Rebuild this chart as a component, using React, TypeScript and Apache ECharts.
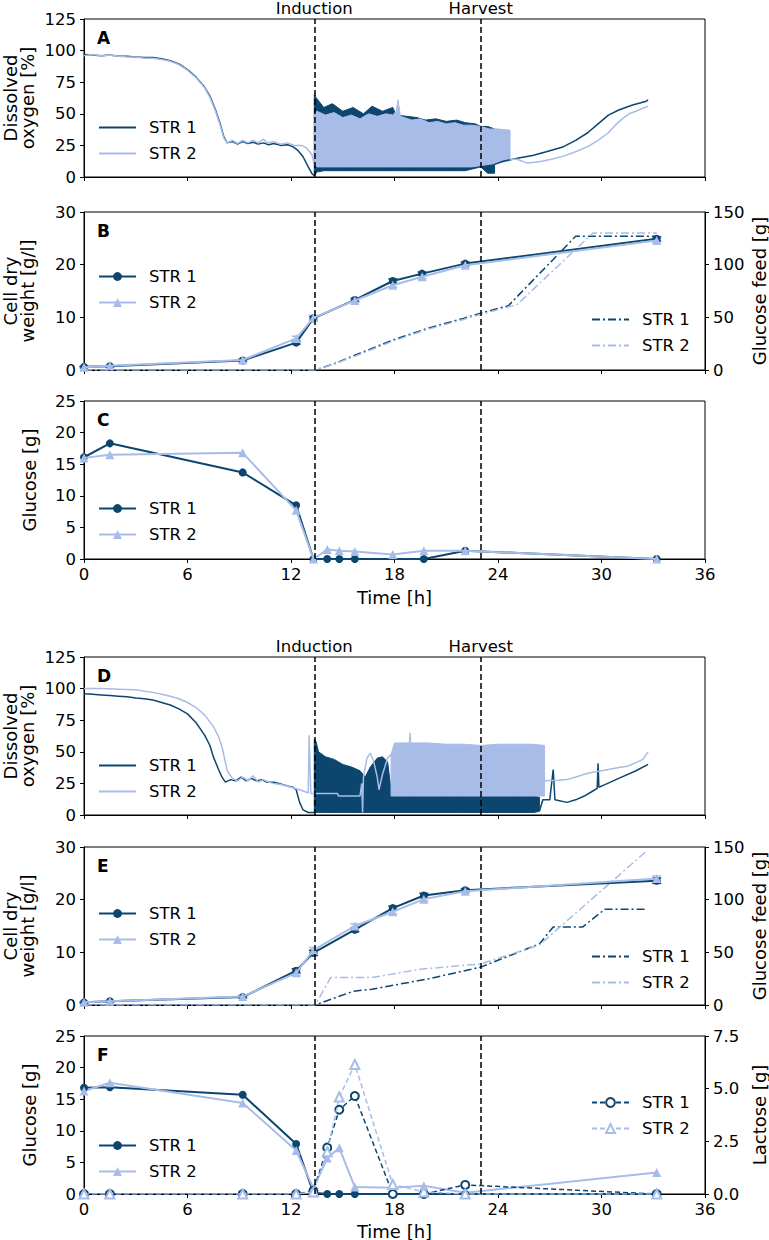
import React, { useEffect, useRef } from "react";
import * as echarts from "echarts";

const FONT = "DejaVu Sans";
const DARK = "#0c466e";
const LIGHT = "#a8bce8";

const INDUCTION_T = 13.35;
const HARVEST_T = 23.0;
const EVENT_LABELS = ["Induction", "Harvest"];
const PANEL_LETTERS = ["A", "B", "C", "D", "E", "F"];

// ---------------- Panel A: dissolved oxygen (run 1) ----------------
const doA1Before: number[][] = [[0,97],[0.5,96.5],[1,96],[1.5,96.5],[2,95.5],[2.5,95.5],[3,95],[3.5,94.5],[4,94.5],[4.5,93.5],[5,92],[5.5,89.5],[6,85],[6.5,79],[7,71],[7.3,64],[7.6,54],[7.9,42],[8.1,32],[8.3,27],[8.6,28],[8.9,26],[9.2,28],[9.5,26.5],[9.8,27.5],[10.1,26],[10.4,27],[10.7,25.5],[11,26.5],[11.4,25],[11.8,25.5],[12.1,24],[12.4,21],[12.7,16],[13,8],[13.2,3],[13.35,1]];
const doA1BandT = [13.35, 13.5, 13.9, 14.4, 15.0, 15.6, 16.2, 16.7, 17.3, 17.9, 18.1, 18.7, 19.3, 19.8, 20.4, 21.0, 21.6, 22.1, 22.7, 23.0, 23.4, 23.8];
const doA1BandHi = [65, 62, 55, 58, 52, 55, 50, 56, 52, 55, 49, 48, 47, 45, 46, 44, 45, 43, 42, 40, 40, 38];
const doA1BandLo = [1, 4, 5, 5, 5, 5, 5, 5, 5, 5, 5, 5, 5, 5, 5, 5, 5, 5, 7, 8, 3, 3];
const doA1After: number[][] = [[23.8,10],[24.3,12.5],[25.2,15],[26,17],[26.8,20],[27.8,24],[28.5,29],[29.2,35],[29.8,42],[30.4,49],[31,53],[31.8,57],[32.6,60],[32.7,61]];

const doA2Before: number[][] = [[0,96],[0.5,97],[1,96],[1.5,96.5],[2,95.5],[2.5,95],[3,95],[3.5,94],[4,94],[4.5,93],[5,91.5],[5.5,89],[6,84.5],[6.5,78.5],[7,70.5],[7.3,63],[7.6,53],[7.9,41],[8.1,31],[8.3,27],[8.6,29],[8.9,26.5],[9.2,29],[9.5,27],[9.8,29],[10.1,27],[10.4,30],[10.6,27],[11,28],[11.4,26],[11.8,27],[12.2,25],[12.6,25],[12.9,23],[13.2,18],[13.35,10]];
const doA2BandT = [13.35, 13.5, 14, 14.5, 15, 15.5, 16, 16.5, 17, 17.5, 17.9, 18.1, 18.2, 18.35, 19, 19.5, 20, 20.5, 21, 21.5, 22, 22.5, 23, 23.5, 24, 24.7];
const doA2BandHi = [50, 52, 49, 51, 47, 49, 46, 50, 48, 50, 49, 52, 61, 48, 45, 46, 43, 44, 42, 43, 41, 41, 40, 38, 38, 37];
const doA2BandLo = [10, 8, 8, 8, 8, 8, 8, 8, 8, 8, 8, 8, 8, 8, 8, 8, 8, 8, 8, 8, 8, 8, 9, 10, 11, 13];
const doA2After: number[][] = [[24.7,14],[25.1,14],[25.7,11],[26.4,12],[27.1,14],[27.8,16.5],[28.5,20],[29.2,24],[29.8,29],[30.4,35],[30.8,41],[31.2,46],[31.6,50],[32,52],[32.4,54.5],[32.7,56]];

// ---------------- Panel B: cell dry weight + glucose feed (run 1) ----------------
const cdwTimesB = [0, 1.5, 9.2, 12.3, 13.3, 15.7, 17.9, 19.6, 22.1, 33.2];
const cdwB1 = [0.6, 0.7, 1.8, 5.2, 9.8, 13.3, 16.9, 18.3, 20.2, 24.9];
const cdwB2 = [0.5, 0.8, 1.9, 6.0, 9.9, 13.2, 16.1, 17.7, 19.9, 24.6];
const cdwErrB1 = [0.1, 0.1, 0.2, 0.3, 0.4, 0.3, 0.4, 0.3, 0.3, 0.4];
const cdwErrB2 = [0.1, 0.1, 0.3, 0.4, 0.5, 0.3, 0.4, 0.4, 0.3, 0.4];
const feedB1: number[][] = [[0,0],[13.4,0],[14.5,6],[16,16],[18,29],[20,40],[22,49],[23,54],[24.6,61],[28.5,127],[33.2,127]];
const feedB2: number[][] = [[0,0],[13.4,0],[14.5,5.5],[16,15],[18,28],[20,39],[22,48],[23,53],[25.1,62],[29.5,130],[33.2,130]];

// ---------------- Panel C: glucose (run 1) ----------------
const glcTimesC1 = [0, 1.5, 9.2, 12.3, 13.3, 14.1, 14.8, 15.7, 19.7, 22.1, 33.2];
const glcC1 = [16.1, 18.3, 13.7, 8.5, 0, 0, 0, 0, 0, 1.3, 0];
const glcTimesC2 = [0, 1.5, 9.2, 12.3, 13.3, 14.1, 14.8, 15.7, 17.9, 19.7, 22.1, 33.2];
const glcC2 = [16.0, 16.5, 16.8, 7.7, 0, 1.5, 1.3, 1.2, 0.7, 1.3, 1.3, 0];

// ---------------- Panel D: dissolved oxygen (run 2) ----------------
const doD1Before: number[][] = [[0,96],[0.5,95.5],[1,95],[1.5,94.5],[2,94],[2.5,93.5],[3,92.5],[3.5,92],[4,91],[4.5,89],[5,87],[5.5,84],[6,80],[6.5,73],[7,63],[7.3,55],[7.5,46],[7.8,36],[8,30],[8.2,26],[8.5,28],[8.8,27],[9.1,30],[9.4,27],[9.7,29],[10,27],[10.3,28],[10.6,26],[11,26],[11.4,24.5],[11.8,23],[12.1,22],[12.3,20],[12.5,10],[12.7,4],[13,2],[13.35,2]];
const doD1BandT = [13.35, 13.45, 13.6, 14, 14.5, 15, 15.5, 16, 16.3, 16.6, 17, 17.3, 17.6, 17.8, 18, 20, 22, 23, 24, 25, 25.9, 26.0, 26.1, 26.4];
const doD1BandHi = [60, 58, 50, 46, 44, 40, 38, 35, 30, 38, 45, 46, 42, 20, 15, 15, 15, 15, 15, 15, 15, 36, 15, 14];
const doD1BandLo = [2, 2, 2, 2, 2, 2, 2, 2, 2, 2, 2, 2, 2, 2, 2, 2, 2, 2, 2, 2, 2, 2, 2, 3];
const doD1After: number[][] = [[26.4,3],[26.6,12],[27.0,12],[27.2,36],[27.3,12],[28,10],[28.5,12],[29,15],[29.5,19],[29.75,21],[29.8,41],[29.85,22],[30.2,24],[31,29],[32,35],[32.7,40]];

const doD2Before: number[][] = [[0,100],[1,100],[2,99.5],[3,99],[3.5,98],[4,97],[4.5,95.5],[5,94],[5.5,92],[6,89],[6.5,85],[7,79],[7.5,70],[7.8,62],[8,54],[8.3,35],[8.6,29],[8.9,27],[9.2,30],[9.5,27],[9.8,31],[10.1,26],[10.4,28],[10.7,26],[11,25],[11.5,24],[12,22],[12.5,20],[12.9,18],[13.0,17.5],[13.05,63],[13.15,17],[13.35,17],[14.7,17],[14.75,15],[16.0,15],[16.1,25],[16.15,2],[16.2,30],[16.4,45],[16.6,49],[16.8,42],[17.0,30],[17.1,20],[17.3,32],[17.6,45],[17.8,48]];
const doD2BandT = [17.8, 18, 18.85, 18.9, 18.95, 20, 21, 22, 23, 24, 25, 26, 26.7];
const doD2BandHi = [48, 57, 57, 65, 57, 57, 56, 56, 55, 56, 56, 56, 55];
const doD2BandLo = [15, 15, 15, 15, 15, 15, 15, 15, 15, 15, 15, 15, 15];
const doD2After: number[][] = [[26.7,27],[27.5,27.5],[28,28],[28.5,30],[29.2,33],[30,35],[30.4,36],[31,37.5],[31.5,38.6],[32.1,42],[32.4,44],[32.7,50]];

// ---------------- Panel E: cell dry weight + glucose feed (run 2) ----------------
const cdwTimesE = [0, 1.5, 9.2, 12.3, 13.3, 15.7, 17.9, 19.7, 22.1, 33.2];
const cdwE1 = [0.5, 0.7, 1.5, 6.5, 9.9, 14.3, 18.4, 20.8, 21.8, 23.6];
const cdwE2 = [0.5, 0.7, 1.6, 6.1, 10.4, 15.0, 17.7, 20.1, 21.6, 24.0];
const cdwErrE1 = [0.1, 0.1, 0.2, 0.4, 0.5, 0.4, 0.4, 0.4, 0.3, 0.5];
const cdwErrE2 = [0.1, 0.1, 0.3, 0.5, 0.5, 0.4, 0.4, 0.4, 0.3, 0.5];
const feedE1: number[][] = [[0,0],[13.4,0],[15.6,13],[16.7,15],[20,25],[23,36],[26.4,58],[27.2,74],[28.9,74],[30.2,91],[32.6,91]];
const feedE2: number[][] = [[0,0],[13.4,0],[14.3,26],[16.7,26],[19.5,34],[23,39],[26.4,57],[32.6,146]];

// ---------------- Panel F: glucose + lactose (run 2) ----------------
const timesF = [0, 1.5, 9.2, 12.3, 13.3, 14.1, 14.8, 15.7, 17.9, 19.7, 22.1, 33.2];
const glcF1 = [16.8, 16.9, 15.7, 7.9, 0.2, 0, 0, 0, 0, 0, 0, 0];
const glcF2 = [16.3, 17.6, 14.4, 6.9, 0.9, 5.7, 7.3, 1.1, 1.0, 1.3, 0.2, 3.4];
const lacF1 = [0, 0, 0, 0, 0.15, 2.2, 4.0, 4.65, 0, 0, 0.43, 0];
const lacF2 = [0, 0, 0, 0, 0.1, 2.0, 4.6, 6.15, 0.45, 0.1, 0, 0];

// ---------------- layout ----------------
const GL = 84, GW = 621, GH = 158;
const TOPS = [19, 212, 401, 657, 847, 1036];

const zip = (ts: number[], vs: number[]) => ts.map((t, i) => [t, vs[i]]);

const eventLine = {
  silent: true,
  symbol: ["none", "none"],
  label: { show: false },
  lineStyle: { color: "#000", type: [6, 3], width: 1.5 },
  data: [{ xAxis: INDUCTION_T }, { xAxis: HARVEST_T }],
  animation: false,
};

function plain(name: string, xi: number, yi: number, data: number[][], color: string, extra: any = {}) {
  return {
    type: "line", name, xAxisIndex: xi, yAxisIndex: yi, data,
    symbol: "none", lineStyle: { color, width: 1.5 }, itemStyle: { color }, z: 2, silent: true,
    ...extra,
  };
}

function marked(name: string, xi: number, yi: number, data: number[][], color: string, symbol: string, size: number, extra: any = {}) {
  return {
    type: "line", name, xAxisIndex: xi, yAxisIndex: yi, data,
    symbol, symbolSize: size, showSymbol: true,
    lineStyle: { color, width: 2 }, itemStyle: { color }, z: 3, silent: true,
    ...extra,
  };
}

function band(name: string, xi: number, yi: number, ts: number[], lo: number[], hi: number[], color: string) {
  return {
    type: "custom", name, xAxisIndex: xi, yAxisIndex: yi, coordinateSystem: "cartesian2d",
    data: [[ts[0], lo[0]]], z: 2, silent: true,
    renderItem: (_p: any, api: any) => {
      const pts: number[][] = [];
      for (let i = 0; i < ts.length; i++) pts.push(api.coord([ts[i], hi[i]]));
      for (let i = ts.length - 1; i >= 0; i--) pts.push(api.coord([ts[i], lo[i]]));
      return { type: "polygon", shape: { points: pts }, style: { fill: color, stroke: color, lineWidth: 1 } };
    },
  };
}

function errorBars(name: string, xi: number, yi: number, ts: number[], vs: number[], errs: number[], color: string) {
  return {
    type: "custom", name, xAxisIndex: xi, yAxisIndex: yi, coordinateSystem: "cartesian2d",
    data: ts.map((t, i) => [t, vs[i] - errs[i], vs[i] + errs[i]]), z: 3, silent: true,
    encode: { x: 0, y: [1, 2] },
    renderItem: (_p: any, api: any) => {
      const lo = api.coord([api.value(0), api.value(1)]);
      const hi = api.coord([api.value(0), api.value(2)]);
      const hw = 4.5;
      const st = { stroke: color, lineWidth: 1.5 };
      return {
        type: "group",
        children: [
          { type: "line", shape: { x1: lo[0], y1: lo[1], x2: hi[0], y2: hi[1] }, style: st },
          { type: "line", shape: { x1: lo[0] - hw, y1: lo[1], x2: lo[0] + hw, y2: lo[1] }, style: st },
          { type: "line", shape: { x1: hi[0] - hw, y1: hi[1], x2: hi[0] + hw, y2: hi[1] }, style: st },
        ],
      };
    },
  };
}

function legend(names: string[], left: number, top: number, lineOnly = false) {
  return {
    show: true, orient: "vertical", left, top, padding: 0,
    itemWidth: 37, itemHeight: 11, itemGap: 9, selectedMode: false,
    data: names.map((n) => (lineOnly ? { name: n, itemStyle: { opacity: 0, color: "rgba(0,0,0,0)", borderColor: "rgba(0,0,0,0)" } } : { name: n })),
    formatter: (n: string) => (n.endsWith("1") ? "STR 1" : "STR 2"),
    textStyle: { fontFamily: FONT, fontSize: 16.5, color: "#000", padding: [0, 0, 0, 8] },
  };
}

function yAxis(gi: number, min: number, max: number, interval: number, position = "left", fmt?: (v: number) => string) {
  return {
    type: "value", gridIndex: gi, min, max, interval, position,
    axisLine: { show: true, onZero: false, lineStyle: { color: "#000", width: 1 } },
    axisTick: { show: true, length: 4, lineStyle: { color: "#000", width: 1 } },
    axisLabel: { margin: 8, color: "#000", fontSize: 16.5, fontFamily: FONT, formatter: fmt },
    splitLine: { show: false },
  };
}

function text(t: string, x: number, y: number, size: number, opts: any = {}) {
  return {
    type: "text", x, y, rotation: opts.rotate ? Math.PI / 2 : 0, silent: true,
    style: {
      text: t, fill: "#000", fontFamily: FONT, fontSize: size, fontWeight: opts.bold ? "bold" : "normal",
      align: opts.align || "center", verticalAlign: "middle", lineHeight: opts.lineHeight || size * 1.1,
    },
  };
}

function buildOption() {
  const xAxes = TOPS.map((_, i) => ({
    type: "value", gridIndex: i, min: 0, max: 36, interval: 6,
    axisLine: { show: true, onZero: false, lineStyle: { color: "#000", width: 1 } },
    axisTick: { show: true, length: 4, lineStyle: { color: "#000", width: 1 } },
    axisLabel: { show: i === 2 || i === 5, margin: 7, color: "#000", fontSize: 16.5, fontFamily: FONT },
    splitLine: { show: false },
  }));

  const yAxes = [
    yAxis(0, 0, 125, 25),
    yAxis(1, 0, 30, 10),
    yAxis(1, 0, 150, 50, "right"),
    yAxis(2, 0, 25, 5),
    yAxis(3, 0, 125, 25),
    yAxis(4, 0, 30, 10),
    yAxis(4, 0, 150, 50, "right"),
    yAxis(5, 0, 25, 5),
    yAxis(5, 0, 7.5, 2.5, "right", (v: number) => v.toFixed(1)),
  ];

  const dashDot = [8, 3, 2, 3];
  const series: any[] = [
    // A
    band("A1band", 0, 0, doA1BandT, doA1BandLo, doA1BandHi, DARK),
    plain("A1", 0, 0, doA1Before, DARK),
    plain("A1after", 0, 0, doA1After, DARK),
    band("A2band", 0, 0, doA2BandT, doA2BandLo, doA2BandHi, LIGHT),
    plain("A2", 0, 0, doA2Before, LIGHT),
    plain("A2after", 0, 0, doA2After, LIGHT, { z: 4, markLine: eventLine }),
    // B
    plain("Bf1", 1, 2, feedB1, DARK, { lineStyle: { color: DARK, width: 1.5, type: dashDot } }),
    plain("Bf2", 1, 2, feedB2, LIGHT, { lineStyle: { color: LIGHT, width: 1.5, type: dashDot } }),
    errorBars("Berr1", 1, 1, cdwTimesB, cdwB1, cdwErrB1, DARK),
    marked("B1", 1, 1, zip(cdwTimesB, cdwB1), DARK, "circle", 8),
    errorBars("Berr2", 1, 1, cdwTimesB, cdwB2, cdwErrB2, LIGHT),
    marked("B2", 1, 1, zip(cdwTimesB, cdwB2), LIGHT, "triangle", 9, { z: 4, markLine: eventLine }),
    // C
    marked("C1", 2, 3, zip(glcTimesC1, glcC1), DARK, "circle", 8),
    marked("C2", 2, 3, zip(glcTimesC2, glcC2), LIGHT, "triangle", 9, { z: 4, markLine: eventLine }),
    // D
    band("D1band", 3, 4, doD1BandT, doD1BandLo, doD1BandHi, DARK),
    plain("D1", 3, 4, doD1Before, DARK),
    plain("D1after", 3, 4, doD1After, DARK),
    band("D2band", 3, 4, doD2BandT, doD2BandLo, doD2BandHi, LIGHT),
    plain("D2", 3, 4, doD2Before, LIGHT),
    plain("D2after", 3, 4, doD2After, LIGHT, { z: 4, markLine: eventLine }),
    // E
    plain("Ef1", 4, 6, feedE1, DARK, { lineStyle: { color: DARK, width: 1.5, type: dashDot } }),
    plain("Ef2", 4, 6, feedE2, LIGHT, { lineStyle: { color: LIGHT, width: 1.5, type: dashDot } }),
    errorBars("Eerr1", 4, 5, cdwTimesE, cdwE1, cdwErrE1, DARK),
    marked("E1", 4, 5, zip(cdwTimesE, cdwE1), DARK, "circle", 8),
    errorBars("Eerr2", 4, 5, cdwTimesE, cdwE2, cdwErrE2, LIGHT),
    marked("E2", 4, 5, zip(cdwTimesE, cdwE2), LIGHT, "triangle", 9, { z: 4, markLine: eventLine }),
    // F
    marked("F1", 5, 7, zip(timesF, glcF1), DARK, "circle", 8),
    marked("F2", 5, 7, zip(timesF, glcF2), LIGHT, "triangle", 9),
    marked("Fl1", 5, 8, zip(timesF, lacF1), DARK, "emptyCircle", 8, { lineStyle: { color: DARK, width: 1.5, type: [5, 3] } }),
    marked("Fl2", 5, 8, zip(timesF, lacF2), LIGHT, "emptyTriangle", 9, { z: 4, lineStyle: { color: LIGHT, width: 1.5, type: [5, 3] }, markLine: eventLine }),
  ];

  const legends = [
    legend(["A1", "A2"], 98, 119, true),
    legend(["B1", "B2"], 98, 268),
    legend(["Bf1", "Bf2"], 591, 311, true),
    legend(["C1", "C2"], 98, 500),
    legend(["D1", "D2"], 98, 757, true),
    legend(["E1", "E2"], 98, 905),
    legend(["Ef1", "Ef2"], 591, 948, true),
    legend(["F1", "F2"], 98, 1137),
    legend(["Fl1", "Fl2"], 591, 1094),
  ];

  const xOf = (t: number) => GL + (t / 36) * GW;
  const graphics: any[] = [];
  PANEL_LETTERS.forEach((L, i) => graphics.push(text(L, 97, TOPS[i] + 19, 17, { bold: true, align: "left" })));
  [TOPS[0], TOPS[3]].forEach((top) => {
    graphics.push(text(EVENT_LABELS[0], xOf(INDUCTION_T), top - 11, 16.5));
    graphics.push(text(EVENT_LABELS[1], xOf(HARVEST_T), top - 11, 16.5));
  });
  const mid = (i: number) => TOPS[i] + GH / 2;
  const YT = 18;
  const twoLine = { rotate: true, lineHeight: 17.5 };
  graphics.push(text("Dissolved\noxygen [%]", 19, mid(0), YT, twoLine));
  graphics.push(text("Cell dry\nweight [g/l]", 19, mid(1), YT, twoLine));
  graphics.push(text("Glucose [g]", 29, mid(2), YT, { rotate: true }));
  graphics.push(text("Dissolved\noxygen [%]", 19, mid(3), YT, twoLine));
  graphics.push(text("Cell dry\nweight [g/l]", 19, mid(4), YT, twoLine));
  graphics.push(text("Glucose [g]", 29, mid(5), YT, { rotate: true }));
  graphics.push(text("Glucose feed [g]", 759, mid(1), YT, { rotate: true }));
  graphics.push(text("Glucose feed [g]", 759, mid(4), YT, { rotate: true }));
  graphics.push(text("Lactose [g]", 759, mid(5), YT, { rotate: true }));
  graphics.push(text("Time [h]", GL + GW / 2, TOPS[2] + GH + 38, YT));
  graphics.push(text("Time [h]", GL + GW / 2, TOPS[5] + GH + 37, YT));

  return {
    animation: false,
    backgroundColor: "#fff",
    textStyle: { fontFamily: FONT },
    grid: TOPS.map((top) => ({
      left: GL, top, width: GW, height: GH, show: true,
      borderColor: "#000", borderWidth: 1, backgroundColor: "transparent",
    })),
    xAxis: xAxes,
    yAxis: yAxes,
    legend: legends,
    series,
    graphic: graphics,
  };
}

export default function App() {
  const ref = useRef<HTMLDivElement>(null);
  useEffect(() => {
    document.body.style.margin = "0";
    const chart = echarts.init(ref.current!, null, { renderer: "svg" });
    chart.setOption(buildOption() as any);
    return () => chart.dispose();
  }, []);
  return <div ref={ref} style={{ width: 769, height: 1240 }} />;
}
